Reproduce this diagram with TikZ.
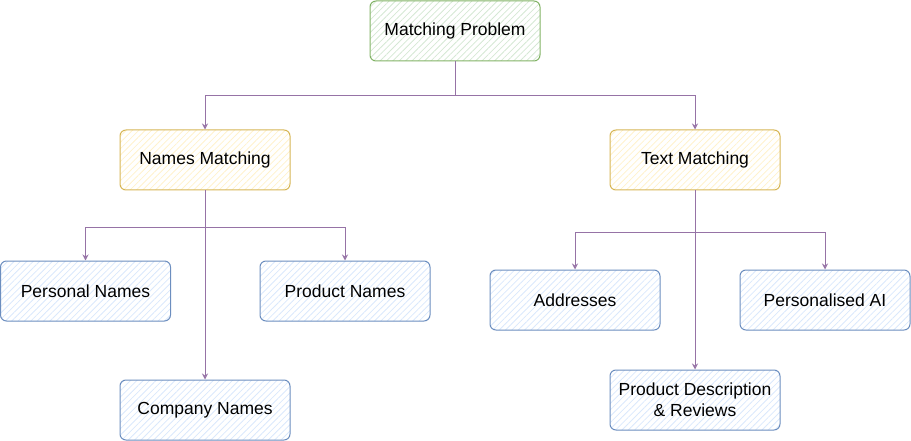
\documentclass[tikz,border=0pt]{standalone}
\usepackage{fontspec}
\setmainfont{Liberation Sans}
\usepackage{tikz}
\usetikzlibrary{arrows.meta, patterns.meta}
\definecolor{greenline}{HTML}{82B366}
\definecolor{greenfill}{HTML}{D5E8D4}
\definecolor{yellowline}{HTML}{D6B656}
\definecolor{yellowfill}{HTML}{FFF2CC}
\definecolor{blueline}{HTML}{6C8EBF}
\definecolor{bluefill}{HTML}{DAE8FC}
\definecolor{purpleline}{HTML}{9673A6}
\tikzstyle{box}=[rounded corners=6pt, line width=1pt, minimum width=170pt, minimum height=60pt,
  align=center, font=\fontsize{17.5}{21}\selectfont,
  pattern={Lines[angle=45,distance=4.5pt,line width=0.8pt]}]
\tikzstyle{topbox}=[box, draw=greenline, pattern color=greenfill]
\tikzstyle{midbox}=[box, draw=yellowline, pattern color=yellowfill]
\tikzstyle{leafbox}=[box, draw=blueline, pattern color=bluefill]
\tikzstyle{arr}=[-{Stealth[open,length=6pt,width=6pt]},line width=0.9pt,color=purpleline]

\begin{document}
\begin{tikzpicture}[x=1pt,y=-1pt]
  \useasboundingbox (0,0) rectangle (911,441);
  % tree of boxes
  \node[topbox] (root) at (455,31) {Matching Problem};
  \node[midbox] (names) at (205,160) {Names Matching};
  \node[midbox] (text) at (695,160) {Text Matching};
  \node[leafbox] (personal) at (85.5,291) {Personal Names};
  \node[leafbox] (product) at (345,291) {Product Names};
  \node[leafbox] (company) at (205,410) {Company Names};
  \node[leafbox] (addr) at (575,300) {Addresses};
  \node[leafbox] (persai) at (825,300) {Personalised AI};
  \node[leafbox] (proddesc) at (695,400) {Product Description\\\& Reviews};
  % split points
  \coordinate (rootsplit) at (455,95);
  \coordinate (namessplit) at (205,227);
  \coordinate (textsplit) at (695,232);
  % connectors
  \draw[arr] (root.south) -- (rootsplit) -| (names.north);
  \draw[arr] (root.south) -- (rootsplit) -| (text.north);
  \draw[arr] (names.south) -- (namessplit) -| (personal.north);
  \draw[arr] (names.south) -- (namessplit) -| (product.north);
  \draw[arr] (names.south) -- (company.north);
  \draw[arr] (text.south) -- (textsplit) -| (addr.north);
  \draw[arr] (text.south) -- (textsplit) -| (persai.north);
  \draw[arr] (text.south) -- (proddesc.north);
\end{tikzpicture}
\end{document}
